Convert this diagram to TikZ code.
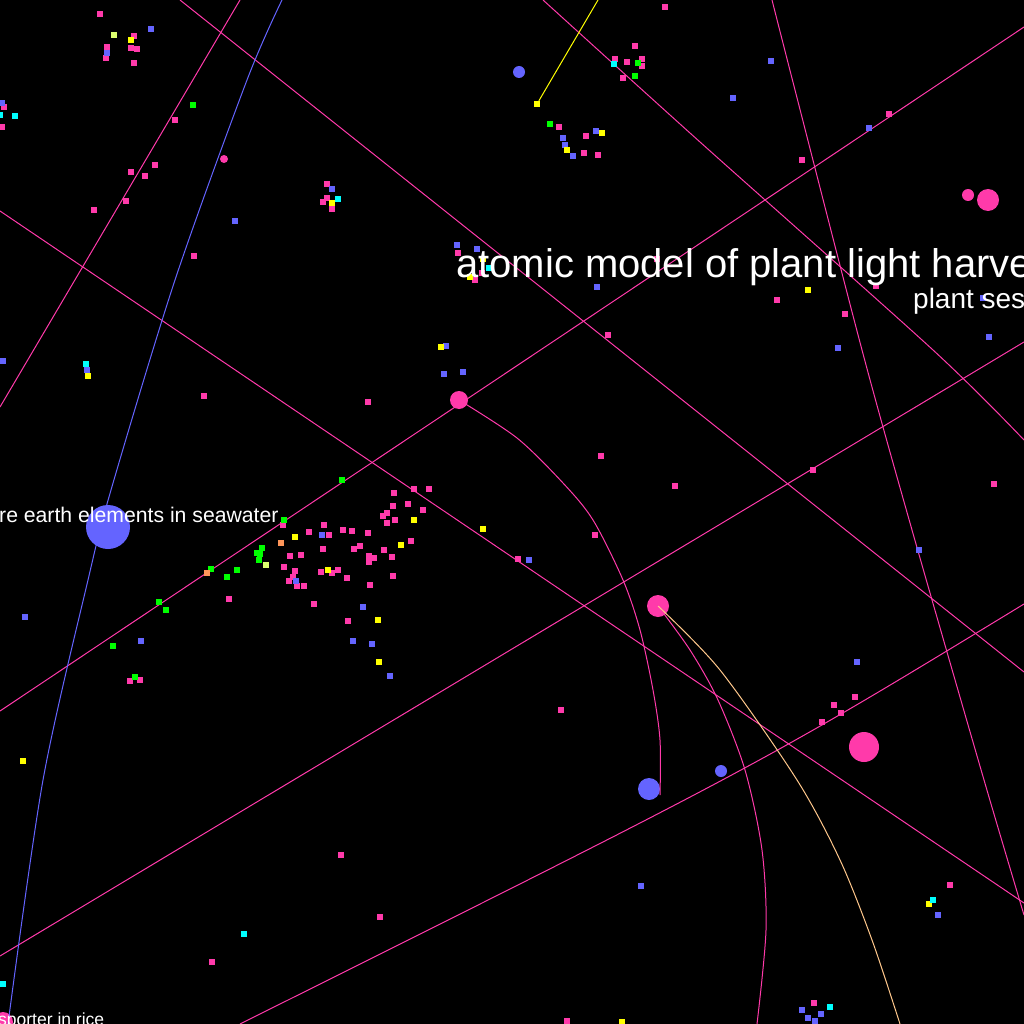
\documentclass[tikz,border=0pt]{standalone}
\usepackage{fontspec}
\newfontfamily\lab{Liberation Sans}
\definecolor{cpink}{RGB}{255,58,170}
\definecolor{cblue}{RGB}{100,100,255}
\definecolor{cyel}{RGB}{255,255,0}
\definecolor{cgrn}{RGB}{0,255,0}
\definecolor{ccyan}{RGB}{0,255,255}
\definecolor{corg}{RGB}{255,150,90}
\definecolor{cly}{RGB}{220,255,110}
\definecolor{cpeach}{RGB}{255,200,140}
\begin{document}
\begin{tikzpicture}[x=1pt,y=-1pt,
  sq/.style={rectangle,inner sep=0pt,minimum size=6pt,draw=none},
  pk/.style={sq,fill=cpink},
  bl/.style={sq,fill=cblue},
  ye/.style={sq,fill=cyel},
  gr/.style={sq,fill=cgrn},
  cy/.style={sq,fill=ccyan},
  orr/.style={sq,fill=corg},
  ly/.style={sq,fill=cly},
  bignode/.style={circle,inner sep=0pt,draw=none},
  edge/.style={draw=cpink,line width=1pt},
  bedge/.style={draw=cblue,line width=1pt},
  yedge/.style={draw=cyel,line width=1pt},
  oedge/.style={draw=cpeach,line width=1pt},
  lbl/.style={text=white,inner sep=0pt},
]
\fill[black] (0,0) rectangle (1024,1024);
\useasboundingbox (0,0) rectangle (1024,1024);

% free-end coordinates
\coordinate (a1) at (180,0);   \coordinate (b1) at (1024,672);
\coordinate (a2) at (0,211);   \coordinate (b2) at (1024,903);
\coordinate (a3) at (0,711);   \coordinate (b3) at (1024,27);
\coordinate (a4) at (0,956);   \coordinate (b4) at (1024,342);
\coordinate (a5) at (240,1024); \coordinate (b5) at (1024,604);
\coordinate (a6) at (240,0);   \coordinate (b6) at (0,407);
\coordinate (a7) at (598,0);
\coordinate (endA) at (660,795);

% big nodes
\node[bignode,fill=cblue,minimum size=44pt] (nRare) at (108,527) {};
\node[bignode,fill=cpink,minimum size=18pt] (nA) at (459,400) {};
\node[bignode,fill=cpink,minimum size=22pt] (nB) at (658,606) {};
\node[bignode,fill=cblue,minimum size=22pt] (nC) at (649,789) {};
\node[bignode,fill=cblue,minimum size=12pt] (nD) at (721,771) {};
\node[bignode,fill=cpink,minimum size=30pt] (nE) at (864,747) {};
\node[bignode,fill=cpink,minimum size=22pt] (nF) at (988,200) {};
\node[bignode,fill=cpink,minimum size=12pt] (nG) at (968,195) {};
\node[bignode,fill=cblue,minimum size=12pt] (nH) at (519,72) {};
\node[bignode,fill=cpink,minimum size=8pt] (nI) at (224,159) {};
\node[bignode,fill=cpink,minimum size=20pt] (nJ) at (3,1022) {};
\node[ye] (yline) at (537,104) {};

% connectors
\draw[edge] (a1) -- (b1);
\draw[edge] (a2) -- (b2);
\draw[edge] (a3) -- (b3);
\draw[edge] (a4) -- (b4);
\draw[edge] (a5) .. controls (763,763) .. (b5);
\draw[edge] (a6) -- (b6);
\draw[edge] plot[smooth] coordinates {(772,0) (795,90) (862,350) (912,530) (984,780) (1024,915)};
\draw[edge] plot[smooth] coordinates {(543,0) (700,142) (933,350) (1024,440)};
\draw[yedge] (a7) -- (yline);
\draw[bedge] plot[smooth] coordinates {(282,0) (247,80) (175,280) (111,490) (88,580) (43,780) (8,1024)};
\draw[edge] plot[smooth] coordinates {(nA) (517,438) (563,483) (593,520) (623,580) (640,630) (653,690) (660,740) (endA)};
\draw[edge] plot[smooth] coordinates {(nB) (690,650) (718,700) (745,770) (762,850) (766,930) (757,1024)};
\draw[oedge] plot[smooth] coordinates {(nB) (720,670) (797,780) (840,860) (872,940) (900,1024)};

% small dots
\foreach \x/\y [count=\i] in {100/14,134/36,107/47,106/58,131/48,137/49,134/63,
665/7,635/46,615/59,627/62,642/59,642/66,623/78,559/127,586/136,584/153,598/155,
4/107,2/127,175/120,155/165,131/172,145/176,126/201,94/210,194/256,
327/184,327/198,323/202,332/209,458/253,482/273,475/280,368/402,
657/259,777/300,876/286,845/314,802/160,889/114,608/335,
414/489,429/489,394/493,393/506,408/504,423/510,387/513,383/516,395/520,387/523,283/525,324/525,309/532,329/535,343/530,352/531,368/533,411/541,323/549,354/549,360/546,384/550,290/556,301/555,369/556,374/558,369/562,392/557,284/567,295/571,293/577,289/581,297/586,304/586,321/572,332/573,338/570,347/578,393/576,370/585,229/599,314/604,348/621,
518/559,601/456,675/486,595/535,561/710,130/681,140/680,
855/697,834/705,841/713,822/722,813/470,994/484,341/855,380/917,212/962,950/885,567/1021,814/1003,204/396}
  \node[pk] (p\i) at (\x,\y) {};
\foreach \x/\y [count=\i] in {151/29,107/53,563/138,565/145,573/156,596/131,2/103,235/221,332/189,457/245,477/249,446/346,444/374,463/372,597/287,
869/128,983/298,989/337,838/348,733/98,771/61,
322/535,296/581,363/607,353/641,372/644,390/676,529/560,
25/617,141/641,919/550,857/662,3/361,87/370,641/886,938/915,802/1010,808/1018,815/1021,821/1014}
  \node[bl] (b\i) at (\x,\y) {};
\foreach \x/\y [count=\i] in {131/40,567/150,602/133,332/203,483/259,470/277,441/347,808/290,414/520,295/537,401/545,328/570,378/620,379/662,483/529,23/761,88/376,929/904,622/1022}
  \node[ye] (y\i) at (\x,\y) {};
\foreach \x/\y [count=\i] in {638/63,635/76,550/124,193/105,342/480,284/520,262/548,257/553,260/554,259/560,211/569,237/570,227/577,159/602,166/610,113/646,135/677}
  \node[gr] (g\i) at (\x,\y) {};
\foreach \x/\y [count=\i] in {614/64,0/115,15/116,338/199,489/268,86/364,244/934,3/984,933/900,830/1007}
  \node[cy] (c\i) at (\x,\y) {};
\node[orr] (o1) at (281,543) {};
\node[orr] (o2) at (207,573) {};
\node[ly] (l1) at (114,35) {};
\node[ly] (l2) at (266,565) {};

% labels
\node[lbl,anchor=base west,font=\lab\fontsize{40}{40}\selectfont] (t1) at (456,277) {atomic model of plant light harve};
\node[lbl,anchor=base west,font=\lab\fontsize{28}{28}\selectfont] (t2) at (913,308) {plant ses};
\node[lbl,anchor=base west,font=\lab\fontsize{21.2}{21.2}\selectfont] (t3) at (-1,522) {re earth elements in seawater};
\node[lbl,anchor=base west,font=\lab\fontsize{17.5}{17.5}\selectfont] (t4) at (-2,1025) {sporter in rice};
\end{tikzpicture}
\end{document}
